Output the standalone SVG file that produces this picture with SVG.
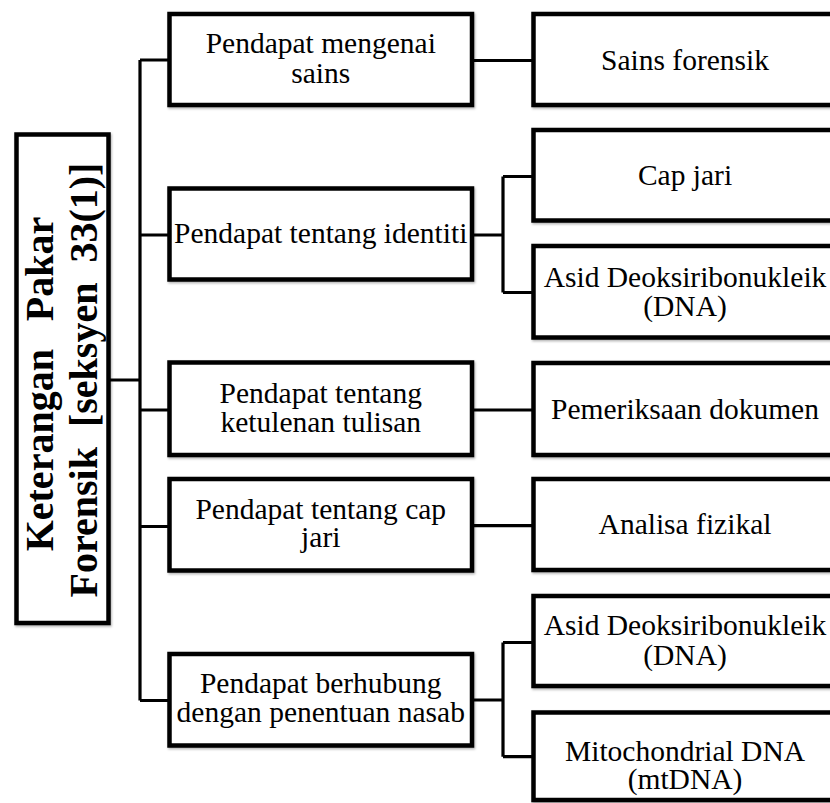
<svg xmlns="http://www.w3.org/2000/svg" width="830" height="803" viewBox="0 0 830 803">
<defs>
<style>
.box{fill:#fff;stroke:#000;stroke-width:4.5;filter:url(#sh)}
.t{font-size:29.5px;fill:#000;text-anchor:middle}
.b{font-size:40px;font-weight:bold;fill:#000;text-anchor:middle}
.c{fill:none;stroke:#000;stroke-width:3.2}
</style>
<filter id="sh" x="-10%" y="-10%" width="120%" height="120%">
<feDropShadow dx="1" dy="1.5" stdDeviation="1.2" flood-color="#000" flood-opacity="0.3"/>
</filter>
</defs>
<rect width="830" height="803" fill="#fff"/>
<g id="connectors">
<path class="c" d="M110 380H140M140 60V700.5M140 60H169.5M140 235H169.5M140 410H169.5M140 526.5H169.5M140 700.5H169.5"/>
<path class="c" d="M472 60.5H533.5M472 235H503M503 176.5V292.5M503 176.5H533.5M503 292.5H533.5M472 410H533.5M472 525.7H533.5M472 700H503M503 642.5V756.7M503 642.5H533.5M503 756.7H533.5"/>
</g>
<g font-family="Liberation Serif, Tinos, Times New Roman, serif">
<g id="root">
<rect class="box" x="16.5" y="134.5" width="92" height="488.5"/>
<text class="b" transform="translate(53,384) rotate(-90)" word-spacing="18">Keterangan Pakar</text>
<text class="b" transform="translate(97,380) rotate(-90)" word-spacing="10">Forensik [seksyen 33(1)]</text>
</g>
<g id="n1">
<rect class="box" x="169.5" y="14" width="302.5" height="91"/>
<text class="t" x="320.75" y="53">Pendapat mengenai</text>
<text class="t" x="320.75" y="83">sains</text>
</g>
<g id="n2">
<rect class="box" x="169.5" y="188.5" width="302.5" height="91"/>
<text class="t" x="320.75" y="243">Pendapat tentang identiti</text>
</g>
<g id="n3">
<rect class="box" x="169.5" y="362.5" width="302.5" height="92.5"/>
<text class="t" x="320.75" y="403">Pendapat tentang</text>
<text class="t" x="320.75" y="432">ketulenan tulisan</text>
</g>
<g id="n4">
<rect class="box" x="169.5" y="479" width="302.5" height="91.5"/>
<text class="t" x="320.75" y="518.5">Pendapat tentang cap</text>
<text class="t" x="320.75" y="547">jari</text>
</g>
<g id="n5">
<rect class="box" x="169.5" y="654" width="302.5" height="91.5"/>
<text class="t" x="320.75" y="693">Pendapat berhubung</text>
<text class="t" x="320.75" y="722">dengan penentuan nasab</text>
</g>
<g id="r1">
<rect class="box" x="533.5" y="14" width="305" height="91"/>
<text class="t" x="685" y="69.5">Sains forensik</text>
</g>
<g id="r2">
<rect class="box" x="533.5" y="130" width="305" height="90.5"/>
<text class="t" x="685" y="185">Cap jari</text>
</g>
<g id="r3">
<rect class="box" x="533.5" y="246" width="305" height="91.5"/>
<text class="t" x="685" y="286.5">Asid Deoksiribonukleik</text>
<text class="t" x="685" y="315.5">(DNA)</text>
</g>
<g id="r4">
<rect class="box" x="533.5" y="363" width="305" height="92"/>
<text class="t" x="685" y="418.5">Pemeriksaan dokumen</text>
</g>
<g id="r5">
<rect class="box" x="533.5" y="479" width="305" height="91"/>
<text class="t" x="685" y="534">Analisa fizikal</text>
</g>
<g id="r6">
<rect class="box" x="533.5" y="596" width="305" height="90"/>
<text class="t" x="685" y="635">Asid Deoksiribonukleik</text>
<text class="t" x="685" y="665">(DNA)</text>
</g>
<g id="r7">
<rect class="box" x="533.5" y="712.5" width="305" height="87.5"/>
<text class="t" x="685" y="761">Mitochondrial DNA</text>
<text class="t" x="685" y="788.5">(mtDNA)</text>
</g>
</g>
</svg>
